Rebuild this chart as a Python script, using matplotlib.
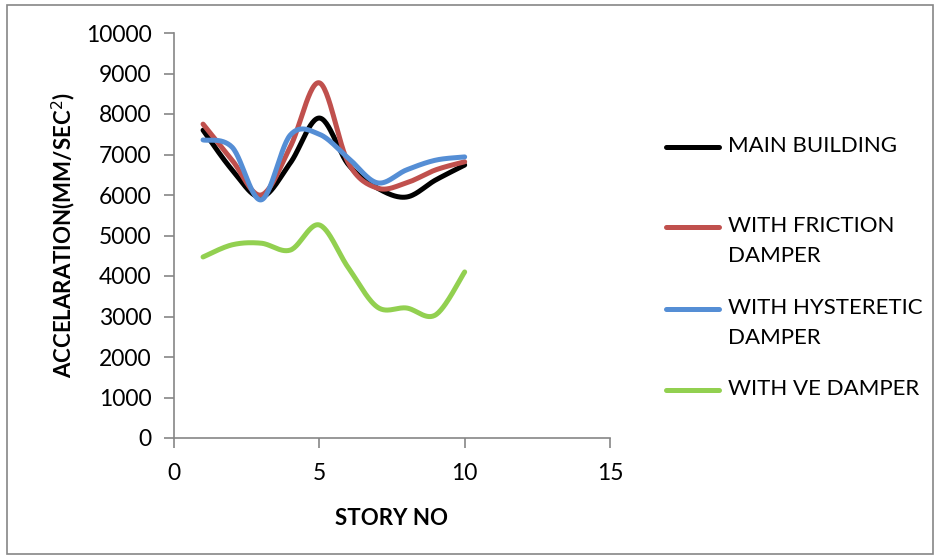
import numpy as np
import matplotlib.pyplot as plt
from matplotlib.lines import Line2D
from matplotlib.patches import Rectangle

plt.rcParams['font.family'] = ['Lato', 'DejaVu Sans']

# Aceleração por andar
story = [1, 2, 3, 4, 5, 6, 7, 8, 9, 10]
main_building = [7600, 6620, 5950, 6790, 7900, 6750, 6170, 5950, 6370, 6740]
friction_damper = [7750, 6860, 6000, 7190, 8770, 6790, 6170, 6300, 6620, 6820]
hysteretic_damper = [7360, 7180, 5880, 7480, 7500, 6910, 6300, 6620, 6860, 6940]
ve_damper = [4470, 4770, 4810, 4640, 5260, 4200, 3230, 3210, 3040, 4100]

labels = ['MAIN BUILDING', 'WITH FRICTION\nDAMPER', 'WITH HYSTERETIC\nDAMPER', 'WITH VE DAMPER']
colors = ['#000000', '#C0504D', '#558ED5', '#92D050']


def smooth(x, y, n=30):
    """Curva suave estilo Excel (Bezier com pontos de controle Catmull-Rom)."""
    x = np.asarray(x, float)
    y = np.asarray(y, float)
    pts = np.column_stack([x, y])
    out = []
    for i in range(len(pts) - 1):
        p0 = pts[i - 1] if i > 0 else pts[i]
        p1 = pts[i]
        p2 = pts[i + 1]
        p3 = pts[i + 2] if i + 2 < len(pts) else pts[i + 1]
        c1 = p1 + (p2 - p0) / 6.0
        c2 = p2 - (p3 - p1) / 6.0
        t = np.linspace(0, 1, n)[:, None]
        seg = ((1 - t) ** 3) * p1 + 3 * ((1 - t) ** 2) * t * c1 + 3 * (1 - t) * t ** 2 * c2 + t ** 3 * p2
        out.append(seg if i == 0 else seg[1:])
    seg = np.vstack(out)
    return seg[:, 0], seg[:, 1]


fig = plt.figure(figsize=(9.37, 5.58), dpi=100)
ax = fig.add_axes([174 / 937, 1 - 438 / 558, (610 - 174) / 937, (438 - 33) / 558])

series = [main_building, friction_damper, hysteretic_damper, ve_damper]
for vals, c in zip(series, colors):
    sx, sy = smooth(story, vals)
    ax.plot(sx, sy, color=c, lw=3.6, solid_capstyle='round')

ax.set_xlim(0, 15)
ax.set_ylim(0, 10000)
ax.set_xticks([0, 5, 10, 15])
ax.set_yticks(range(0, 10001, 1000))

axis_grey = '#868686'
for side in ['top', 'right']:
    ax.spines[side].set_visible(False)
for side in ['left', 'bottom']:
    ax.spines[side].set_color(axis_grey)
    ax.spines[side].set_linewidth(1.2)
ax.tick_params(axis='both', colors=axis_grey, labelcolor='black', labelsize=16.5,
               length=7, width=1.2, direction='out')
ax.tick_params(axis='y', pad=9)
ax.tick_params(axis='x', pad=11)

ax.set_ylabel('ACCELARATION(MM/SEC$^{2}$)', fontsize=16, fontweight='bold', labelpad=6)
ax.set_xlabel('STORY NO', fontsize=16, fontweight='bold', labelpad=17)

# Legenda desenhada à mão (espaçamento irregular)
legend_y = [147, 227, 309, 390]
for lab, c, y in zip(labels, colors, legend_y):
    yf = 1 - y / 558
    fig.add_artist(Line2D([666 / 937, 719 / 937], [yf, yf], color=c, lw=3.6,
                          solid_capstyle='round', transform=fig.transFigure))
    fig.text(728 / 937, yf + 11 / 558, lab, fontsize=16, va='top', ha='left',
             linespacing=1.6, transform=fig.transFigure)

# Moldura externa do gráfico
fig.add_artist(Rectangle((7 / 937, 4 / 558), 926 / 937, 549 / 558, fill=False,
                         edgecolor='#868686', lw=1.2, transform=fig.transFigure))

fig.savefig('out.png', dpi=100)
